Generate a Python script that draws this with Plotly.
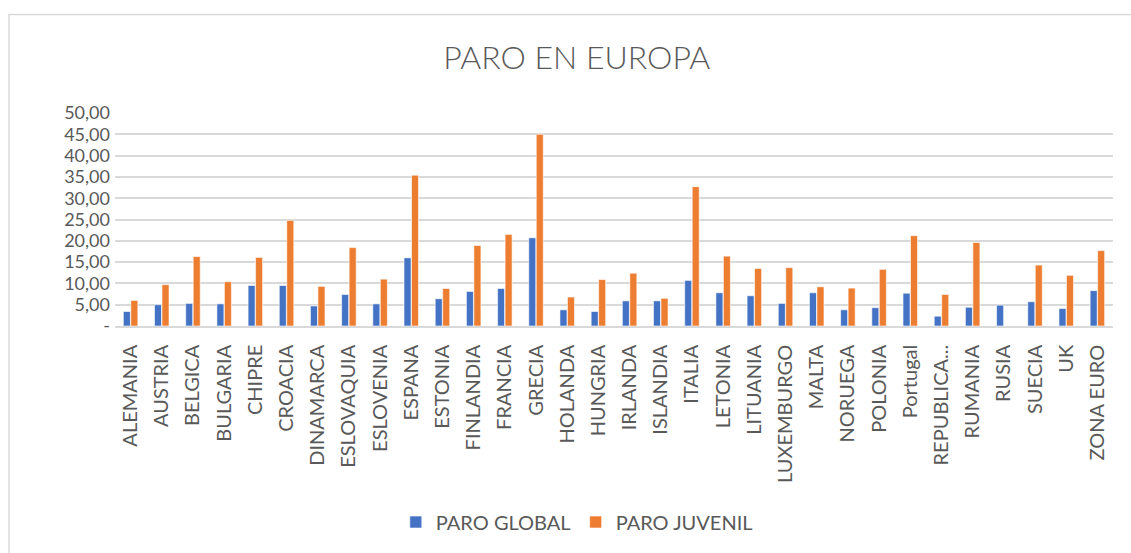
import plotly.graph_objects as go

categories = ["ALEMANIA", "AUSTRIA", "BELGICA", "BULGARIA", "CHIPRE", "CROACIA",
              "DINAMARCA", "ESLOVAQUIA", "ESLOVENIA", "ESPANA", "ESTONIA", "FINLANDIA",
              "FRANCIA", "GRECIA", "HOLANDA", "HUNGRIA", "IRLANDA", "ISLANDIA", "ITALIA",
              "LETONIA", "LITUANIA", "LUXEMBURGO", "MALTA", "NORUEGA", "POLONIA",
              "Portugal", "REPUBLICA...", "RUMANIA", "RUSIA", "SUECIA", "UK", "ZONA EURO"]

paro_global = [3.4, 5.0, 5.3, 5.2, 9.5, 9.5, 4.7, 7.4, 5.2, 16.0, 6.4, 8.1,
               8.8, 20.7, 3.8, 3.4, 5.9, 5.9, 10.7, 7.8, 7.1, 5.3, 7.8, 3.8, 4.3,
               7.7, 2.3, 4.4, 4.9, 5.7, 4.1, 8.3]

paro_juvenil = [6.0, 9.7, 16.3, 10.4, 16.1, 24.8, 9.3, 18.4, 11.0, 35.4, 8.8, 18.9,
                21.5, 45.0, 6.8, 10.9, 12.4, 6.5, 32.7, 16.4, 13.5, 13.7, 9.2, 8.9, 13.3,
                21.2, 7.4, 19.6, 0.0, 14.3, 11.9, 17.7]

y_tick_vals = [0, 5, 10, 15, 20, 25, 30, 35, 40, 45, 50]
y_tick_text = ["-", "5,00", "10,00", "15,00", "20,00", "25,00", "30,00",
               "35,00", "40,00", "45,00", "50,00"]

FONT = "Lato, 'Open Sans', sans-serif"
TXT = "#595959"

fig = go.Figure()
fig.add_trace(go.Bar(name="PARO GLOBAL", x=categories, y=paro_global,
                     marker=dict(color="#4472C4", line=dict(color="#FFFFFF", width=0.6))))
fig.add_trace(go.Bar(name="PARO JUVENIL", x=categories, y=paro_juvenil,
                     marker=dict(color="#ED7D31", line=dict(color="#FFFFFF", width=0.6))))

fig.update_layout(
    width=1131, height=553,
    paper_bgcolor="white", plot_bgcolor="white",
    margin=dict(l=115, r=18, t=113, b=227),
    barmode="group", bargap=0.52, bargroupgap=0.06,
    font=dict(family=FONT, color=TXT, size=20),
    title=dict(text="PARO EN EUROPA", x=0.51, xref="container", y=0.895,
               yref="container", xanchor="center", yanchor="middle",
               font=dict(family=FONT, size=32, color=TXT, weight=300)),
    showlegend=True,
    legend=dict(orientation="h", xref="container", yref="container",
                x=0.51, y=0.056, xanchor="center", yanchor="middle",
                font=dict(size=20, color=TXT), itemwidth=30, traceorder="normal"),
    shapes=[dict(type="rect", xref="paper", yref="paper", x0=-0.1062, y0=-1.3,
                 x1=1.1, y1=1.463, line=dict(color="#D9D9D9", width=1.5),
                 fillcolor="rgba(0,0,0,0)", layer="below")],
)
fig.update_xaxes(type="category", tickangle=-90, showgrid=False,
                 showline=True, linecolor="#D9D9D9", linewidth=1.5,
                 ticks="", tickfont=dict(size=20, color=TXT), ticklabelstandoff=9)
fig.update_yaxes(range=[0, 50], tickvals=y_tick_vals, ticktext=y_tick_text,
                 showgrid=True, gridcolor="#D9D9D9", gridwidth=1.5,
                 zeroline=False, showline=False, ticks="",
                 tickfont=dict(size=18, color=TXT), ticklabelstandoff=4)

fig.write_html("out.html", config={"displayModeBar": False},
               post_script="document.body.style.margin='0';")
